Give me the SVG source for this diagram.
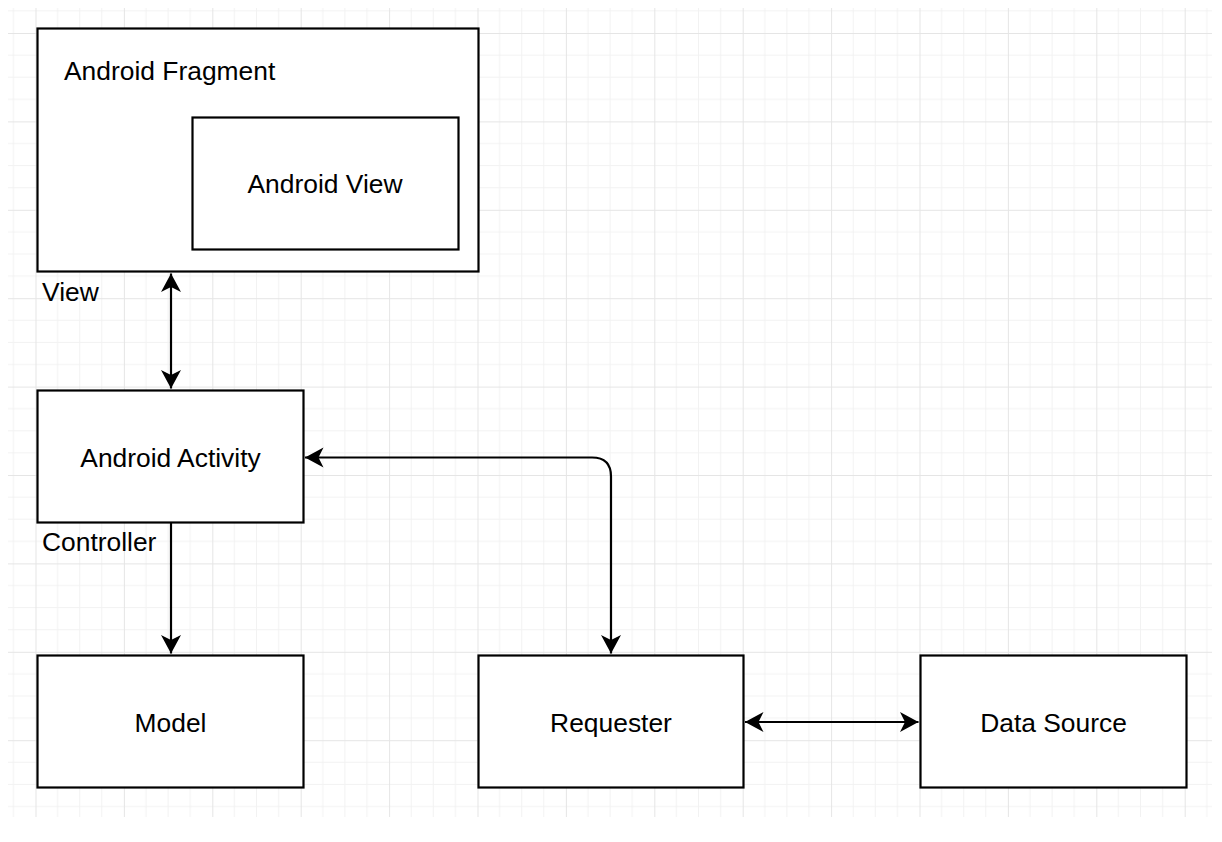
<svg xmlns="http://www.w3.org/2000/svg" width="1222" height="842" viewBox="0 0 1222 842">
  <defs>
    <pattern id="grid" patternUnits="userSpaceOnUse" x="35.5" y="33" width="88.4" height="88.4">
      <path d="M22.1,0 V88.4 M44.2,0 V88.4 M66.3,0 V88.4 M0,22.1 H88.4 M0,44.2 H88.4 M0,66.3 H88.4" stroke="#f2f2f2" stroke-width="1" fill="none"/>
      <path d="M0.5,0 V88.4 M0,0.5 H88.4" stroke="#e5e5e5" stroke-width="1" fill="none"/>
    </pattern>
    <marker id="arr" viewBox="-20 -11 22 22" refX="0" refY="0" markerWidth="22" markerHeight="22" markerUnits="userSpaceOnUse" orient="auto-start-reverse">
      <path d="M0,0 L-18.5,-10 L-13.5,0 L-18.5,10 Z" fill="#000"/>
    </marker>
    <style>
      .box { fill: #fff; stroke: #000; stroke-width: 2.2; }
      .lbl { font-family: "Liberation Sans", Arial, Helvetica, sans-serif; font-size: 26.4px; fill: #000; }
      .mid { text-anchor: middle; }
      .edge { fill: none; stroke: #000; stroke-width: 2.2; marker-start: url(#arr); marker-end: url(#arr); }
    </style>
  </defs>
  <rect x="0" y="0" width="1222" height="842" fill="#fff"/>
  <rect x="8" y="8" width="1204" height="809" fill="url(#grid)"/>

  <g id="fragment">
    <rect class="box" x="37.5" y="28.5" width="441" height="243"/>
    <text class="lbl" x="64" y="80">Android Fragment</text>
  </g>
  <g id="android-view">
    <rect class="box" x="192.5" y="117.5" width="266" height="132"/>
    <text class="lbl mid" x="325" y="193">Android View</text>
  </g>
  <g id="view-label">
    <text class="lbl" x="42" y="301">View</text>
  </g>
  <g id="activity">
    <rect class="box" x="37.5" y="390.5" width="266" height="132"/>
    <text class="lbl mid" x="170.5" y="466.5">Android Activity</text>
  </g>
  <g id="controller-label">
    <text class="lbl" x="42" y="551">Controller</text>
  </g>
  <g id="model">
    <rect class="box" x="37.5" y="655.5" width="266" height="132"/>
    <text class="lbl mid" x="170.5" y="731.5">Model</text>
  </g>
  <g id="requester">
    <rect class="box" x="478.5" y="655.5" width="265" height="132"/>
    <text class="lbl mid" x="611" y="731.5">Requester</text>
  </g>
  <g id="data-source">
    <rect class="box" x="920.5" y="655.5" width="266" height="132"/>
    <text class="lbl mid" x="1053.5" y="731.5">Data Source</text>
  </g>

  <g id="connectors">
    <path class="edge" d="M171,273.5 L171,388.5"/>
    <path class="edge" d="M171,523 L171,653.5" style="marker-start:none"/>
    <path class="edge" d="M305,457.5 L592,457.5 Q611,457.5 611,476.5 L611,653.5"/>
    <path class="edge" d="M745,722 L918.5,722"/>
  </g>
</svg>
